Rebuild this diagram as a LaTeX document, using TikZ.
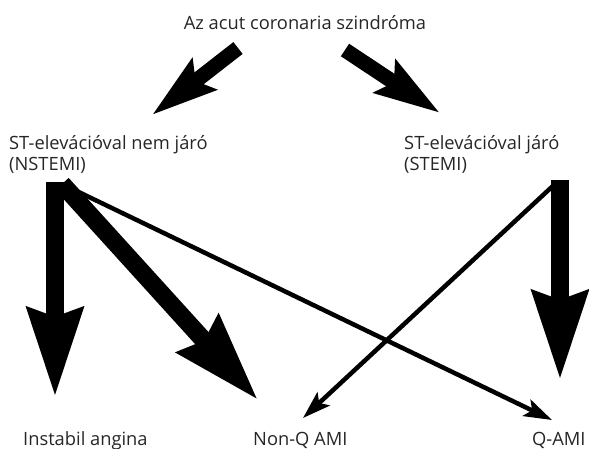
\documentclass[tikz,border=0pt]{standalone}
\usepackage{fontspec}
\setmainfont{Open Sans}
\usetikzlibrary{arrows.meta, positioning}

\begin{document}
\begin{tikzpicture}[x=1pt, y=-1pt,
    lbl/.style={inner sep=0pt, text=black!85, font=\fontsize{18.3}{21}\selectfont},
    fat/.style={line width=15pt, -{Stealth[length=65pt, width=38pt, inset=10pt]}},
    heavy/.style={line width=18pt, -{Stealth[length=88pt, width=54pt, inset=8pt]}},
    slim/.style={line width=4.5pt, -{Stealth[length=28pt, width=18pt, inset=6pt]}}
]
\useasboundingbox (0,0) rectangle (589,449);

% labels
\node[lbl, anchor=base] (acs) at (305,30) {Az acut coronaria szindróma};
\node[lbl, anchor=base west, align=left] (nstemi) at (9,171) {ST-elevációval nem járó\\(NSTEMI)};
\node[lbl, anchor=base west, align=left] (stemi) at (404,171) {ST-elevációval járó\\(STEMI)};
\node[lbl, anchor=base west] (ia) at (23,445) {Instabil angina};
\node[lbl, anchor=base west] (nonq) at (253,445) {Non-Q AMI};
\node[lbl, anchor=base west] (qami) at (532,445) {Q-AMI};

% arrow ends
\coordinate (acs-l) at (238,48);
\coordinate (acs-r) at (345,50);
\coordinate (nstemi-in) at (152,115);
\coordinate (stemi-in) at (440,113);
\coordinate (nstemi-out) at (55,182);
\coordinate (nstemi-out2) at (62,184);
\coordinate (stemi-out) at (560,180);
\coordinate (stemi-out2) at (555,184);
\coordinate (ia-in) at (55,397);
\coordinate (nonq-in) at (258,400);
\coordinate (nonq-in2) at (303,418);
\coordinate (qami-in) at (552,420);
\coordinate (qami-in2) at (560,380);

\draw
(acs-l) edge[fat] (nstemi-in)
(acs-r) edge[fat] (stemi-in)
(nstemi-out) edge[heavy] (ia-in)
(nstemi-out2) edge[heavy] (nonq-in)
(nstemi-out2) edge[slim] (qami-in)
(stemi-out2) edge[slim] (nonq-in2)
(stemi-out) edge[heavy] (qami-in2);
\end{tikzpicture}
\end{document}
